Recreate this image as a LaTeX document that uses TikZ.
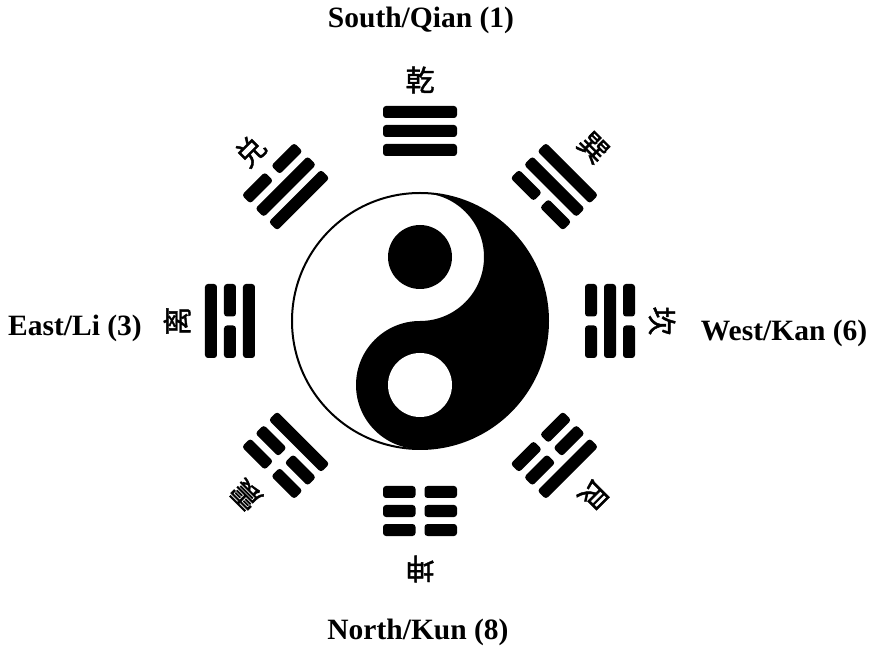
\documentclass[tikz,border=0pt]{standalone}
\usepackage{fontspec}
\setmainfont{Liberation Serif}
\newfontfamily\cjk[FakeBold=1.5]{Noto Sans CJK SC}
\newcommand\trigbar[2]{%
  \ifnum#2=1
    \fill[bar] (-37,#1-6) rectangle (37,#1+6);
  \else
    \fill[bar] (-37,#1-6) rectangle (-4.5,#1+6);
    \fill[bar] (4.5,#1-6) rectangle (37,#1+6);
  \fi}
\newcommand\drawtrigram[4]{%
  \begin{scope}[shift={(#1:190)}, rotate=#1-90]
    \trigbar{-19}{#2}\trigbar{0}{#3}\trigbar{19}{#4}
  \end{scope}}
\begin{document}
\begin{tikzpicture}[x=1pt,y=1pt,
  bar/.style={black, rounded corners=3pt},
  hanzi/.style={font=\cjk\fontsize{29}{30}\selectfont, inner sep=0pt},
  dirlabel/.style={font=\bfseries\fontsize{29.5}{31}\selectfont, inner sep=0pt}]
\useasboundingbox (-420,-331) rectangle (452,321);
% yin-yang
\def\R{128}
\fill[white] (0,0) circle[radius=\R];
\fill[black] (0,\R) arc[start angle=90, end angle=-90, radius=\R]
  arc[start angle=-90, end angle=-270, radius=\R/2]
  arc[start angle=-90, end angle=90, radius=\R/2] -- cycle;
\draw[line width=2pt] (0,0) circle[radius=\R];
\fill[black] (0,\R/2) circle[radius=32];
\fill[white] (0,-\R/2) circle[radius=32];
% trigrams (innermost line = bottom line)
\drawtrigram{90}{1}{1}{1}
\drawtrigram{45}{0}{1}{1}
\drawtrigram{0}{0}{1}{0}
\drawtrigram{-45}{0}{0}{1}
\drawtrigram{-90}{0}{0}{0}
\drawtrigram{-135}{1}{0}{0}
\drawtrigram{180}{1}{0}{1}
\drawtrigram{135}{1}{1}{0}
% characters
\node[hanzi, rotate=0] (qian) at (90:241) {乾};
\node[hanzi, rotate=-45] (xun) at (45:245) {巽};
\node[hanzi, rotate=-90] (kan) at (0:242) {坎};
\node[hanzi, rotate=-135] (gen) at (-45:246) {艮};
\node[hanzi, rotate=-180] (kun) at (-90:248) {坤};
\node[hanzi, rotate=-225] (zhen) at (-135:246) {震};
\node[hanzi, rotate=90] (li) at (180:243) {离};
\node[hanzi, rotate=45] (dui) at (135:240) {兑};
% direction labels
\node[dirlabel] (south) at (1,301) {South/Qian (1)};
\node[dirlabel] (north) at (-2,-311) {North/Kun (8)};
\node[dirlabel] (east) at (-345,-7) {East/Li (3)};
\node[dirlabel] (west) at (364,-12) {West/Kan (6)};
\end{tikzpicture}
\end{document}
